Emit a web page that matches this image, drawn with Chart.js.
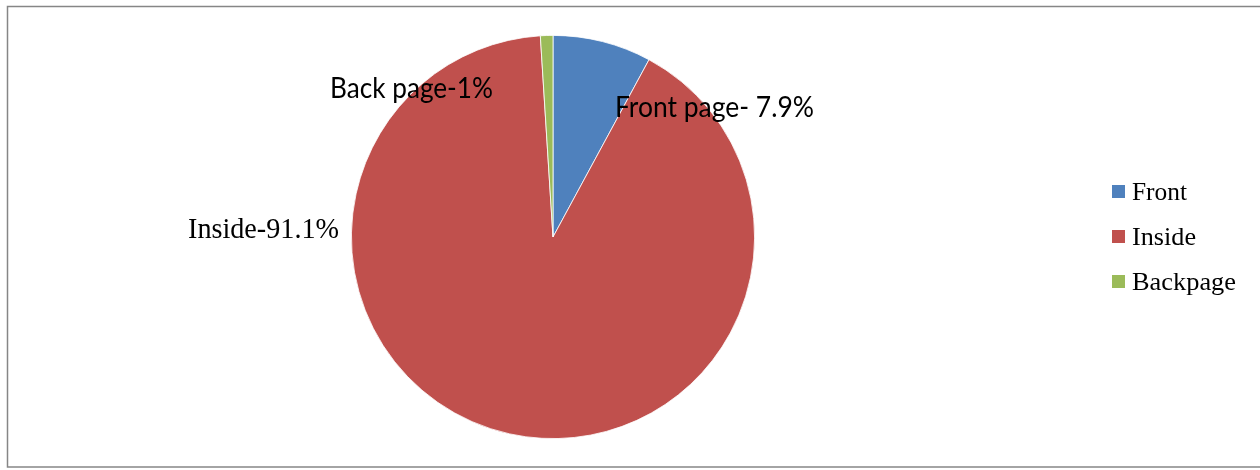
<!DOCTYPE html>
<html>
<head>
<meta charset="utf-8">
<script src="https://cdn.jsdelivr.net/npm/chart.js@4.4.1/dist/chart.umd.min.js"></script>
<style>
    html, body { margin: 0; padding: 0; background: #fff; }
    #wrap { position: relative; width: 1260px; height: 470px; }
</style>
</head>
<body>
<div id="wrap">
    <canvas id="chartPlacement" width="1260" height="470"></canvas>
</div>
<script>
const categories = ["Front", "Inside", "Backpage"];
const shares = [7.9, 91.1, 1];
const slicePrefixes = ["Front page- ", "Inside-", "Back page-"];
const sliceColors = ["#4F81BD", "#C0504D", "#9BBB59"];

// draws text starting at x, squeezed or stretched to the given width
const fitText = (ctx, text, x, y, width) => {
    const w = ctx.measureText(text).width;
    ctx.save();
    ctx.translate(x, y);
    ctx.scale(width / w, 1);
    ctx.fillText(text, 0, 0);
    ctx.restore();
};

const framePlugin = {
    id: "frame",
    beforeDraw(chart) {
        const c = chart.ctx;
        c.save();
        c.fillStyle = "#fff";
        c.fillRect(0, 0, chart.width, chart.height);
        c.strokeStyle = "#868686";
        c.lineWidth = 1.5;
        c.strokeRect(7.5, 6.5, 1262, 460.5);
        c.restore();
    },
};

const sliceLabelPlugin = {
    id: "sliceLabels",
    afterDatasetsDraw(chart) {
        const c = chart.ctx;
        const values = chart.data.datasets[0].data;
        const texts = values.map((v, i) => slicePrefixes[i] + v + "%");
        c.save();
        c.fillStyle = "#000";
        c.textBaseline = "alphabetic";
        // Front
        c.font = "28px Lato";
        fitText(c, texts[0], 615, 117, 199);
        // Back page
        fitText(c, texts[2], 330, 98, 163);
        // Inside
        c.font = "29px 'Liberation Serif'";
        fitText(c, texts[1], 188, 238, 151);
        c.restore();
    },
};

const sideLegendPlugin = {
    id: "sideLegend",
    afterDraw(chart) {
        const c = chart.ctx;
        const colors = chart.data.datasets[0].backgroundColor;
        const widths = [55, 64, 104];
        c.save();
        c.font = "26px 'Liberation Serif'";
        c.textBaseline = "alphabetic";
        chart.data.labels.forEach((label, i) => {
            const y = 185 + i * 45;
            c.fillStyle = colors[i];
            c.fillRect(1112, y, 13, 13);
            c.fillStyle = "#000";
            fitText(c, label, 1132, y + 15, widths[i]);
        });
        c.restore();
    },
};

document.addEventListener("DOMContentLoaded", () => {
    const ctx = document.getElementById("chartPlacement");
    new Chart(ctx, {
        type: "pie",
        data: {
            labels: categories,
            datasets: [
                {
                    data: shares,
                    backgroundColor: sliceColors,
                    borderColor: "#fff",
                    borderWidth: 0.8,
                },
            ],
        },
        options: {
            responsive: false,
            animation: false,
            layout: { padding: { left: 351, right: 505, top: 35, bottom: 31 } },
            plugins: {
                legend: { display: false },
                tooltip: { enabled: false },
            },
        },
        plugins: [framePlugin, sliceLabelPlugin, sideLegendPlugin],
    });
});
</script>
</body>
</html>
